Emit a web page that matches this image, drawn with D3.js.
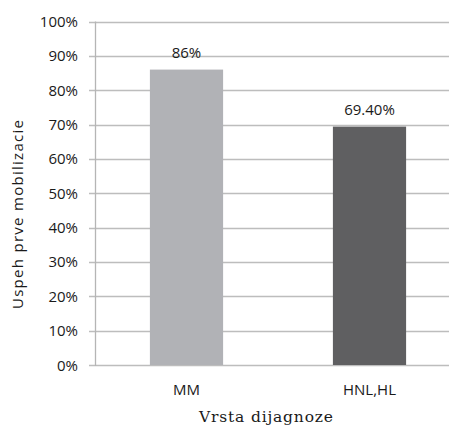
<!DOCTYPE html>
<html>
<head>
<meta charset="utf-8">
<script src="https://cdn.jsdelivr.net/npm/d3@7"></script>
<style>
  body { margin: 0; background: #fff; }
  svg { display: block; }
</style>
</head>
<body>
<div id="chart"></div>
<script>
// Bar chart: first mobilization success by diagnosis type
const categories = ["MM", "HNL,HL"];
const values = [0.86, 0.694];
const valueLabels = ["86%", "69.40%"];
const barColors = ["#b1b2b6", "#5f5f61"];
const yTicks = [0, 0.1, 0.2, 0.3, 0.4, 0.5, 0.6, 0.7, 0.8, 0.9, 1.0];

const W = 449, H = 425;
const svg = d3.select("#chart").append("svg")
    .attr("width", W)
    .attr("height", H);

const x = d3.scaleBand()
    .domain(categories)
    .range([95, 461])
    .paddingInner(0.6)
    .paddingOuter(0.3);

const y = d3.scaleLinear()
    .domain([0, 1])
    .range([365, 21.5]);

// gridlines
svg.append("g").selectAll("line")
    .data(yTicks)
    .enter().append("line")
    .attr("x1", 89)
    .attr("x2", 461)
    .attr("y1", d => Math.round(y(d)) + 0.5)
    .attr("y2", d => Math.round(y(d)) + 0.5)
    .attr("stroke", "#bdbdbd")
    .attr("stroke-width", 1.3);

// vertical axis line
svg.append("line")
    .attr("x1", 95.5).attr("x2", 95.5)
    .attr("y1", y(1)).attr("y2", y(0) + 1)
    .attr("stroke", "#b5b5b5")
    .attr("stroke-width", 1.3);

// y tick labels
svg.append("g").selectAll("text")
    .data(yTicks)
    .enter().append("text")
    .attr("x", 78)
    .attr("y", d => y(d) + 5.5)
    .attr("text-anchor", "end")
    .style("font-family", "Open Sans")
    .style("font-size", "15px")
    .attr("fill", "#1a1a1a")
    .text(d => d3.format(".0%")(d));

// bars
svg.append("g").selectAll("rect")
    .data(categories)
    .enter().append("rect")
    .attr("x", d => x(d))
    .attr("y", (d, i) => y(values[i]))
    .attr("width", x.bandwidth())
    .attr("height", (d, i) => y(0) - y(values[i]))
    .attr("fill", (d, i) => barColors[i]);

// value labels
svg.append("g").selectAll("text")
    .data(categories)
    .enter().append("text")
    .attr("x", d => x(d) + x.bandwidth() / 2)
    .attr("y", (d, i) => y(values[i]) - 12)
    .attr("text-anchor", "middle")
    .style("font-family", "Open Sans")
    .style("font-size", "15px")
    .attr("fill", "#1a1a1a")
    .text((d, i) => valueLabels[i]);

// category labels
svg.append("g").selectAll("text")
    .data(categories)
    .enter().append("text")
    .attr("x", d => x(d) + x.bandwidth() / 2)
    .attr("y", 395)
    .attr("text-anchor", "middle")
    .style("font-family", "Open Sans")
    .style("font-size", "15px")
    .attr("fill", "#1a1a1a")
    .text(d => d);

// x axis title
svg.append("text")
    .attr("x", 199)
    .attr("y", 422)
    .attr("textLength", 134)
    .attr("lengthAdjust", "spacing")
    .style("font-family", "DejaVu Serif")
    .style("font-size", "15.5px")
    .attr("fill", "#1a1a1a")
    .text("Vrsta dijagnoze");

// y axis title
svg.append("text")
    .attr("transform", "translate(23,309) rotate(-90)")
    .attr("textLength", 189)
    .attr("lengthAdjust", "spacing")
    .style("font-family", "Open Sans")
    .style("font-size", "15px")
    .attr("fill", "#1a1a1a")
    .text("Uspeh prve mobilizacie");
</script>
</body>
</html>
